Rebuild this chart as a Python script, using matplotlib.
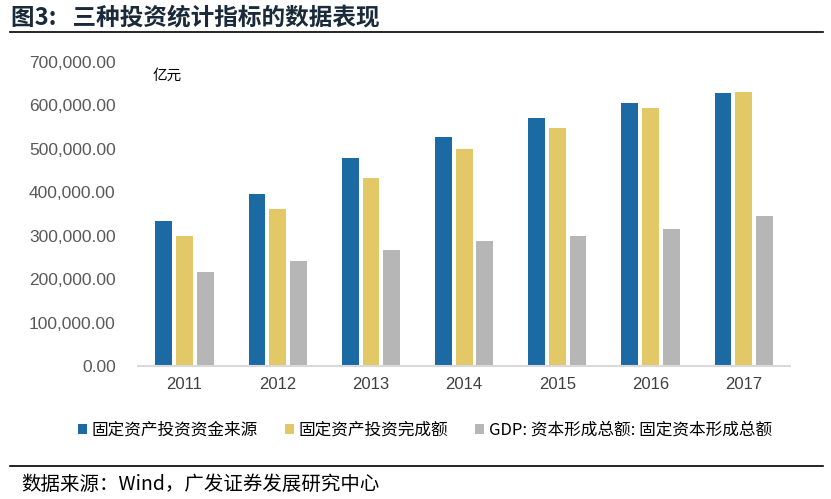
import matplotlib.pyplot as plt
import numpy as np
from matplotlib.lines import Line2D

plt.rcParams['font.family'] = ['Noto Sans CJK SC', 'DejaVu Sans']

years = ['2011', '2012', '2013', '2014', '2015', '2016', '2017']
source = [334000, 396000, 479000, 527000, 571000, 605000, 628000]
done = [299000, 361500, 433000, 500000, 548000, 594000, 631000]
gdp = [216400, 241700, 267000, 288000, 299000, 315000, 345000]
names = ['固定资产投资资金来源', '固定资产投资完成额', 'GDP: 资本形成总额: 固定资本形成总额']
colors = ['#1C6AA4', '#E2C866', '#B6B6B6']

fig = plt.figure(figsize=(8.31, 4.99), dpi=100)
ax = fig.add_axes([0.166, 0.2665, 0.785, 0.6093])

x = np.arange(len(years))
w = 0.18
for i, vals in enumerate([source, done, gdp]):
    ax.bar(x + (i - 1) * 0.222, vals, w, color=colors[i], label=names[i])

ax.set_xlim(-0.5, len(years) - 0.5)
ax.set_ylim(0, 700000)
ax.set_yticks(np.arange(0, 700001, 100000))
ax.set_yticklabels(['{:,.2f}'.format(v) for v in np.arange(0, 700001, 100000)],
                   fontfamily='Liberation Sans', fontsize=12.5, color='#595959')
ax.set_xticks(x)
ax.set_xticklabels(years, fontfamily='Liberation Sans', fontsize=12, color='#404040')
ax.tick_params(length=0, axis='both')
ax.tick_params(axis='y', pad=16)
ax.tick_params(axis='x', pad=8)
for s in ['top', 'right', 'left']:
    ax.spines[s].set_visible(False)
ax.spines['bottom'].set_color('#D9D9D9')
ax.spines['bottom'].set_linewidth(1.5)

ax.text(0.022, 0.955, '亿元', transform=ax.transAxes, fontsize=10.5, va='center')

ax.legend(loc='upper center', bbox_to_anchor=(0.44, -0.135), ncol=3, frameon=False,
          fontsize=12, handlelength=0.55, handleheight=0.55, handletextpad=0.3,
          columnspacing=1.6)

fig.text(0.013, 0.965, '图3:   三种投资统计指标的数据表现', fontsize=17, fontweight='bold',
         color='#1A2A3A', va='center')
fig.add_artist(Line2D([0.012, 0.99], [0.935, 0.935], color='black', lw=1.2))
fig.add_artist(Line2D([0.012, 0.99], [0.066, 0.066], color='black', lw=1.2))
fig.text(0.025, 0.03, '数据来源：Wind，广发证券发展研究中心', fontsize=14, va='center')

fig.savefig('out.png', dpi=100)
